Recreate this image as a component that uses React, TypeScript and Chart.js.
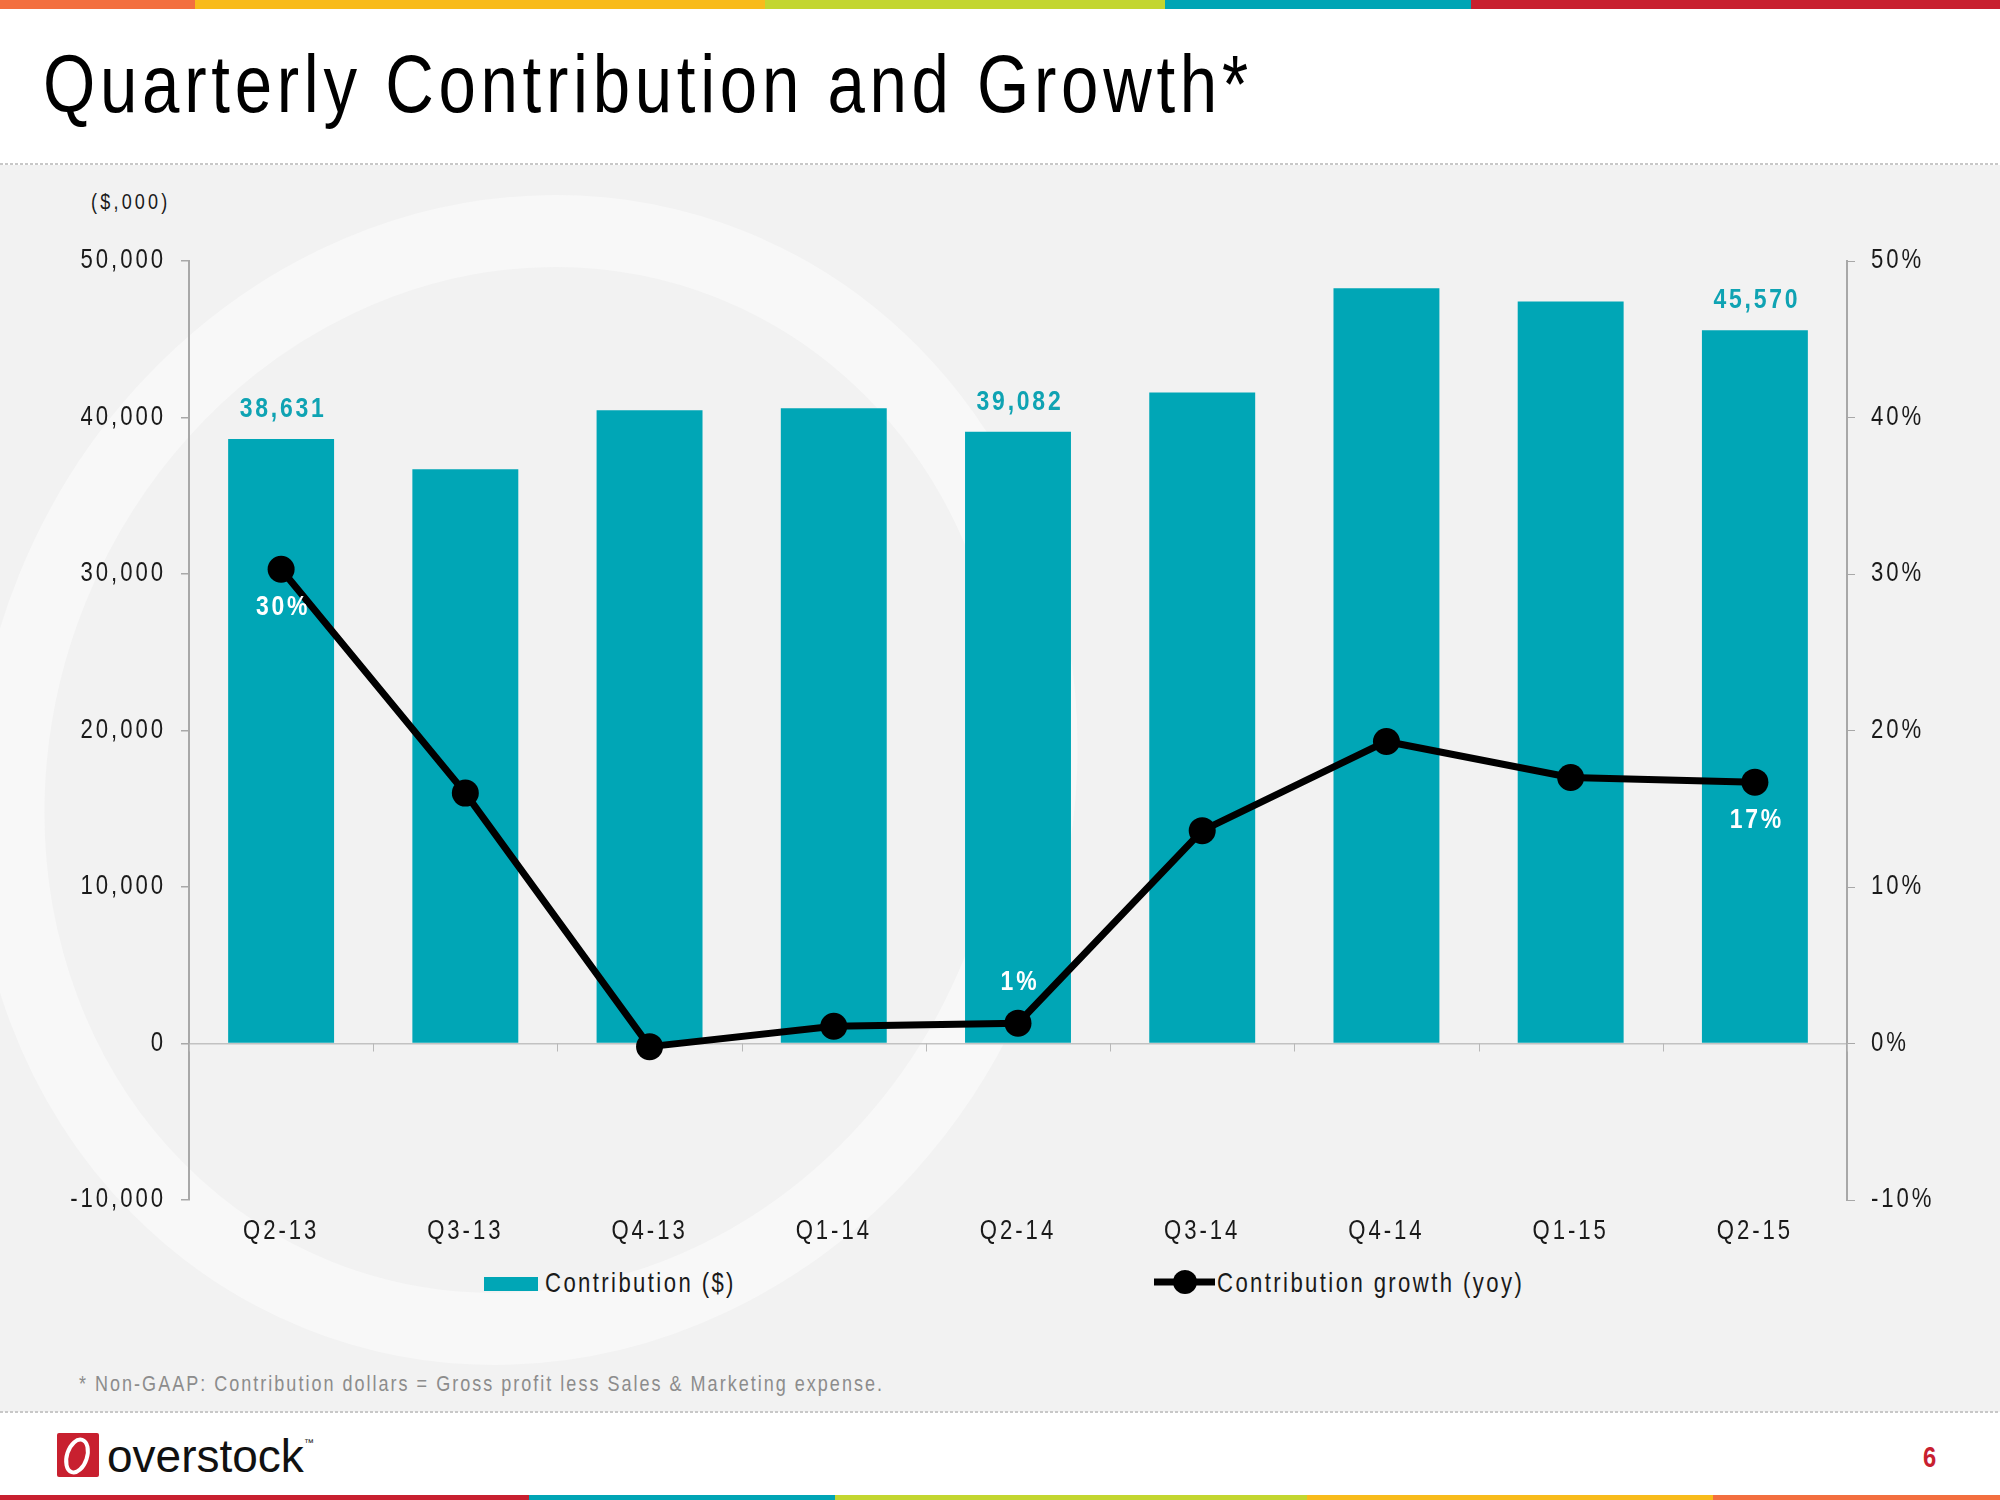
import React, { useEffect, useRef } from "react";
import { Chart, registerables } from "chart.js";

Chart.register(...registerables);

// ---- data ----
const categories = ["Q2-13", "Q3-13", "Q4-13", "Q1-14", "Q2-14", "Q3-14", "Q4-14", "Q1-15", "Q2-15"];
const contribution = [38631, 36700, 40460, 40590, 39082, 41600, 48260, 47420, 45570];
const growthPct = [30.3, 16.0, -0.2, 1.1, 1.3, 13.6, 19.3, 17.0, 16.7];
const leftRange = [-10000, 50000];
const leftStep = 10000;
const rightRange = [-10, 50];
const rightStep = 10;
const barLabelIndices = [0, 4, 8];
const lineLabelIndices = [0, 4, 8];
const lineLabelSides = ["below", "above", "below"];

const seriesNames = ["Contribution ($)", "Contribution growth (yoy)"];
const titleText = "Quarterly Contribution and Growth*";
const unitText = "($,000)";
const footnoteText = "* Non-GAAP: Contribution dollars = Gross profit less Sales & Marketing expense.";

const TEAL = "#00a6b6";
const SANS = "'Liberation Sans', Arial, sans-serif";
const NARROW_X = 0.82; // Liberation Sans squeezed horizontally ~ Arial Narrow

const decorPlugin = {
  id: "decor",
  beforeUpdate(chart: any) {
    chart.ctx.letterSpacing = "3.6px";
  },
  beforeDraw(chart: any) {
    chart.ctx.letterSpacing = "3.6px";
  },
  afterDatasetsDraw(chart: any) {
    const ctx = chart.ctx;
    const xs = chart.scales.x;
    const ys = chart.scales.y;
    const y0 = ys.getPixelForValue(0);
    ctx.save();
    // category boundary ticks on the zero line
    ctx.strokeStyle = "#b8b8b8";
    ctx.lineWidth = 1;
    for (let k = 0; k <= categories.length; k++) {
      const x = Math.round(xs.getPixelForValue(k - 0.5)) + 0.5;
      ctx.beginPath();
      ctx.moveTo(x, y0);
      ctx.lineTo(x, y0 + 8);
      ctx.stroke();
    }
    // bar value labels
    ctx.letterSpacing = "3.4px";
    ctx.font = `bold 28px ${SANS}`;
    ctx.textAlign = "center";
    ctx.textBaseline = "middle";
    ctx.fillStyle = "#0fa3b3";
    const barMeta = chart.getDatasetMeta(0);
    barLabelIndices.forEach((i) => {
      const el = barMeta.data[i];
      ctx.fillText(contribution[i].toLocaleString("en-US"), el.x + 2, el.y - 30);
    });
    // line value labels
    ctx.fillStyle = "#ffffff";
    const lineMeta = chart.getDatasetMeta(1);
    lineLabelIndices.forEach((i, j) => {
      const el = lineMeta.data[i];
      const dy = lineLabelSides[j] === "below" ? 38 : -41;
      ctx.fillText(Math.round(growthPct[i]) + "%", el.x + 2, el.y + dy);
    });
    ctx.restore();
  },
};

function NarrowText(props: {
  x: number;
  y: number;
  size: number;
  spacing: number;
  fill: string;
  bold?: boolean;
  children: string;
}) {
  return (
    <text
      transform={`translate(${props.x} ${props.y}) scale(${NARROW_X} 1)`}
      x={0}
      y={0}
      fontFamily={SANS}
      fontSize={props.size}
      fontWeight={props.bold ? "bold" : "normal"}
      letterSpacing={props.spacing / NARROW_X}
      fill={props.fill}
    >
      {props.children}
    </text>
  );
}

export default function App() {
  const ref = useRef<HTMLCanvasElement | null>(null);

  useEffect(() => {
    const canvas = ref.current;
    if (!canvas) return;
    const ctx2d = canvas.getContext("2d") as any;
    const nativeFill = CanvasRenderingContext2D.prototype.fillText;
    ctx2d.fillText = function (text: string, x: number, y: number, maxWidth?: number) {
      this.save();
      this.translate(x, y);
      this.scale(NARROW_X, 1);
      if (maxWidth === undefined || maxWidth === null) nativeFill.call(this, text, 0, 0);
      else nativeFill.call(this, text, 0, 0, maxWidth / NARROW_X);
      this.restore();
    };

    const tickFont = { family: SANS, size: 27 };
    const chart = new Chart(canvas, {
      type: "bar",
      data: {
        labels: categories,
        datasets: [
          {
            type: "bar",
            label: seriesNames[0],
            data: contribution,
            backgroundColor: TEAL,
            barPercentage: 0.575,
            categoryPercentage: 1,
            yAxisID: "y",
            order: 2,
          },
          {
            type: "line",
            label: seriesNames[1],
            data: growthPct,
            borderColor: "#000000",
            backgroundColor: "#000000",
            borderWidth: 7,
            pointRadius: 13.5,
            pointBackgroundColor: "#000000",
            pointBorderWidth: 0,
            yAxisID: "y1",
            order: 1,
          } as any,
        ],
      },
      options: {
        responsive: false,
        animation: false,
        layout: { padding: { top: 96, left: 0, right: 0, bottom: 0 } },
        plugins: { legend: { display: false }, tooltip: { enabled: false } },
        scales: {
          x: {
            type: "category",
            offset: true,
            grid: { display: false },
            border: { display: false },
            ticks: { color: "#1a1a1a", font: tickFont, padding: 7, maxRotation: 0 },
            afterFit: (s: any) => {
              s.height = 65;
            },
          },
          y: {
            position: "left",
            min: leftRange[0],
            max: leftRange[1],
            ticks: {
              stepSize: leftStep,
              color: "#1a1a1a",
              font: tickFont,
              padding: 15,
              callback: (v: any) => Number(v).toLocaleString("en-US"),
            },
            grid: {
              color: (c: any) => (c.tick && c.tick.value === 0 ? "#c2c2c2" : "rgba(0,0,0,0)"),
              tickColor: "#a8a8a8",
              tickLength: 8,
              lineWidth: 1.5,
            },
            border: { color: "#a8a8a8", width: 2 },
            afterFit: (s: any) => {
              s.width = 189;
            },
          },
          y1: {
            position: "right",
            min: rightRange[0],
            max: rightRange[1],
            ticks: {
              stepSize: rightStep,
              color: "#1a1a1a",
              font: tickFont,
              padding: 16,
              callback: (v: any) => v + "%",
            },
            grid: { drawOnChartArea: false, tickColor: "#a8a8a8", tickLength: 8 },
            border: { color: "#a8a8a8", width: 2 },
            afterFit: (s: any) => {
              s.width = 153;
            },
          },
        },
      } as any,
      plugins: [decorPlugin],
    });
    return () => {
      chart.destroy();
      delete ctx2d.fillText;
    };
  }, []);

  const topBar = [
    [0, 195, "#f36f3f"],
    [195, 765, "#f8bb1b"],
    [765, 1165, "#c3d62f"],
    [1165, 1471, "#00a5b5"],
    [1471, 2000, "#c8202f"],
  ] as const;
  const bottomBar = [
    [0, 529, "#c8202f"],
    [529, 835, "#00a5b5"],
    [835, 1307, "#c3d62f"],
    [1307, 1713, "#f8bb1b"],
    [1713, 2000, "#f36f3f"],
  ] as const;

  return (
    <div style={{ position: "fixed", left: 0, top: 0, width: 2000, height: 1500, background: "#ffffff", overflow: "hidden" }}>
      <svg width={2000} height={1500} style={{ position: "absolute", left: 0, top: 0 }}>
        <defs>
          <clipPath id="grayClip">
            <rect x={0} y={165} width={2000} height={1247} />
          </clipPath>
        </defs>
        {topBar.map(([a, b, c]) => (
          <rect key={"t" + a} x={a} y={0} width={b - a} height={9} fill={c} />
        ))}
        {bottomBar.map(([a, b, c]) => (
          <rect key={"b" + a} x={a} y={1495} width={b - a} height={5} fill={c} />
        ))}
        <rect x={0} y={165} width={2000} height={1247} fill="#f2f2f2" />
        <g clipPath="url(#grayClip)">
          <ellipse cx={525} cy={780} rx={510} ry={555} transform="rotate(22 525 780)" fill="none" stroke="#f8f8f8" strokeWidth={72} />
        </g>
        <line x1={0} y1={164} x2={2000} y2={164} stroke="#c8c8c8" strokeWidth={2} strokeDasharray="3 2" />
        <line x1={0} y1={1412} x2={2000} y2={1412} stroke="#c8c8c8" strokeWidth={2} strokeDasharray="3 2" />
        <NarrowText x={43} y={112} size={82} spacing={4.7} fill="#000">
          {titleText}
        </NarrowText>
        <NarrowText x={91} y={209} size={22} spacing={3.2} fill="#1a1a1a">
          {unitText}
        </NarrowText>
        {/* legend */}
        <rect x={484} y={1277} width={54} height={14} fill={TEAL} />
        <NarrowText x={545} y={1292} size={27} spacing={2.4} fill="#1a1a1a">
          {seriesNames[0]}
        </NarrowText>
        <line x1={1154} y1={1282} x2={1215} y2={1282} stroke="#000" strokeWidth={7} />
        <circle cx={1185} cy={1282} r={12} fill="#000" />
        <NarrowText x={1217} y={1292} size={27} spacing={2.4} fill="#1a1a1a">
          {seriesNames[1]}
        </NarrowText>
        <NarrowText x={79} y={1391} size={22} spacing={2.0} fill="#8c8c8c">
          {footnoteText}
        </NarrowText>
        {/* logo */}
        <rect x={57} y={1433} width={42} height={44} fill="#c8202f" rx={2} />
        <ellipse cx={77} cy={1456} rx={10} ry={17} transform="rotate(18 77 1456)" fill="none" stroke="#ffffff" strokeWidth={4} />
        <text x={107} y={1472} fontFamily={SANS} fontSize={46} fill="#111">
          overstock
        </text>
        <text x={304} y={1446} fontFamily={SANS} fontSize={10} fill="#111">
          ™
        </text>
        <NarrowText x={1923} y={1467} size={29} spacing={0} fill="#c8202f" bold>
          6
        </NarrowText>
      </svg>
      <canvas ref={ref} width={2000} height={1100} style={{ position: "absolute", left: 0, top: 165 }} />
    </div>
  );
}
